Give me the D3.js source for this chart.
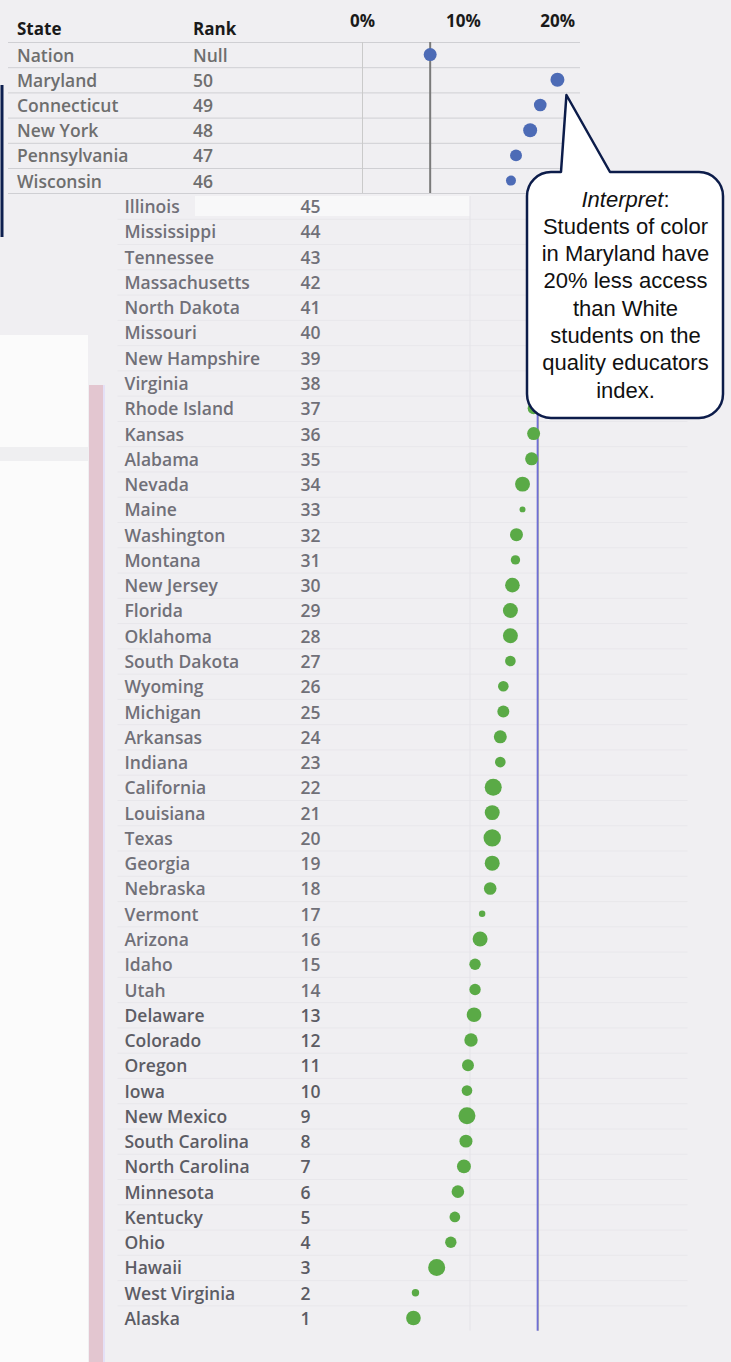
<!DOCTYPE html>
<html>
<head>
<meta charset="utf-8">
<script src="https://cdn.jsdelivr.net/npm/d3@7"></script>
<style>
  html, body { margin: 0; padding: 0; background: #f0eff2; }
  svg { display: block; }
</style>
</head>
<body>
<svg id="canvas" width="731" height="1362"></svg>
<script>
// top table: nation + the five widest gaps
var topStates = ["Nation", "Maryland", "Connecticut", "New York", "Pennsylvania", "Wisconsin"];
var topRanks = ["Null", "50", "49", "48", "47", "46"];
var topGaps = [6.7, 19.3, 17.6, 16.6, 15.2, 14.7];
var topSizes = [52, 60, 49, 60, 44, 31];

// lower table: ranks 45 down to 1
var lowStates = ["Illinois", "Mississippi", "Tennessee", "Massachusetts", "North Dakota", "Missouri",
  "New Hampshire", "Virginia", "Rhode Island", "Kansas", "Alabama", "Nevada", "Maine", "Washington",
  "Montana", "New Jersey", "Florida", "Oklahoma", "South Dakota", "Wyoming", "Michigan", "Arkansas",
  "Indiana", "California", "Louisiana", "Texas", "Georgia", "Nebraska", "Vermont", "Arizona", "Idaho",
  "Utah", "Delaware", "Colorado", "Oregon", "Iowa", "New Mexico", "South Carolina", "North Carolina",
  "Minnesota", "Kentucky", "Ohio", "Hawaii", "West Virginia", "Alaska"];
var lowRanks = [45, 44, 43, 42, 41, 40, 39, 38, 37, 36, 35, 34, 33, 32, 31, 30, 29, 28, 27, 26, 25, 24,
  23, 22, 21, 20, 19, 18, 17, 16, 15, 14, 13, 12, 11, 10, 9, 8, 7, 6, 5, 4, 3, 2, 1];
var lowGaps = [11.8, 10.5, 9.6, 8.9, 8.2, 7.6, 7.1, 6.5, 6.3, 6.3, 6.1, 5.2, 5.2, 4.6, 4.5, 4.2, 4.0,
  4.0, 4.0, 3.3, 3.3, 3.0, 3.0, 2.3, 2.2, 2.2, 2.2, 2.0, 1.2, 1.0, 0.5, 0.5, 0.4, 0.1, -0.2, -0.3,
  -0.3, -0.4, -0.6, -1.2, -1.5, -1.9, -3.3, -5.4, -5.6];
var lowSizes = [50, 50, 45, 50, 20, 45, 20, 55, 44, 52, 52, 69, 11, 52, 27, 66, 69, 69, 35, 35, 44, 52,
  35, 89, 69, 93, 69, 49, 13, 69, 40, 40, 66, 55, 44, 35, 89, 52, 60, 49, 35, 40, 89, 17, 66];

var axisTicks = [0, 10, 20];

var calloutLines = ["Students of color", "in Maryland have", "20% less access",
  "than White", "students on the", "quality educators", "index."];

var svg = d3.select('#canvas');
var font = "'Open Sans', sans-serif";

var x = d3.scaleLinear().domain([0, 10]).range([362.5, 463.5]);
var r = d3.scaleSqrt().domain([0, 100]).range([0, 9]);
var shift = 107.5;

// background bits of the pasted screenshot
svg.append('rect').attr('x', 0).attr('y', 335).attr('width', 88).attr('height', 1027).attr('fill', '#fbfbfb');
svg.append('rect').attr('x', 0).attr('y', 447).attr('width', 88).attr('height', 14).attr('fill', '#efeff1');
svg.append('rect').attr('x', 89).attr('y', 385).attr('width', 14).attr('height', 977).attr('fill', '#e3c6d0');
svg.append('rect').attr('x', 103).attr('y', 385).attr('width', 2).attr('height', 977).attr('fill', '#e4e0f6');
svg.append('line').attr('x1', 2).attr('x2', 2).attr('y1', 85).attr('y2', 237)
  .attr('stroke', '#0d1f4f').attr('stroke-width', 3);
svg.append('rect').attr('x', 195).attr('y', 196).attr('width', 275).attr('height', 20)
  .attr('fill', '#ffffff').attr('opacity', 0.55);

// ---- top table ----
var yTop = d3.scaleBand().domain(topStates).range([42, 193.2]);
var topG = svg.append('g');

topG.selectAll('line.sep')
  .data(topStates)
  .enter()
  .append('line')
  .attr('x1', 8).attr('x2', 580)
  .attr('y1', function(d) { return yTop(d) + 0.5; })
  .attr('y2', function(d) { return yTop(d) + 0.5; })
  .attr('stroke', '#cfcfd3');
topG.append('line')
  .attr('x1', 8).attr('x2', 580).attr('y1', 193.5).attr('y2', 193.5)
  .attr('stroke', '#cfcfd3');

topG.append('line')
  .attr('x1', x(0)).attr('x2', x(0)).attr('y1', 42).attr('y2', 193)
  .attr('stroke', '#cacaca');
topG.append('line')
  .attr('x1', x(topGaps[0])).attr('x2', x(topGaps[0])).attr('y1', 42).attr('y2', 193)
  .attr('stroke', '#7a7a7a').attr('stroke-width', 2);

topG.selectAll('text.tick')
  .data(axisTicks)
  .enter()
  .append('text')
  .attr('x', function(d, i) { return i == axisTicks.length - 1 ? 575 : x(d); })
  .attr('y', 27)
  .attr('text-anchor', function(d, i) { return i == axisTicks.length - 1 ? 'end' : 'middle'; })
  .style('font-family', font).style('font-weight', 700).style('font-size', '17px')
  .style('fill', '#1a1a1a')
  .text(function(d) { return d + '%'; });

topG.append('text').attr('x', 17).attr('y', 35).text('State')
  .style('font-family', font).style('font-weight', 700).style('font-size', '17px').style('fill', '#1a1a1a');
topG.append('text').attr('x', 193).attr('y', 35).text('Rank')
  .style('font-family', font).style('font-weight', 700).style('font-size', '17px').style('fill', '#1a1a1a');

topG.selectAll('text.name')
  .data(topStates)
  .enter()
  .append('text')
  .attr('x', 17)
  .attr('y', function(d) { return yTop(d) + yTop.bandwidth() / 2 + 7; })
  .style('font-family', font).style('font-weight', 600).style('font-size', '17.5px')
  .style('fill', '#6e6e6e')
  .text(function(d) { return d; });

topG.selectAll('text.rank')
  .data(topRanks)
  .enter()
  .append('text')
  .attr('x', 193)
  .attr('y', function(d, i) { return yTop(topStates[i]) + yTop.bandwidth() / 2 + 7; })
  .style('font-family', font).style('font-weight', 600).style('font-size', '17.5px')
  .style('fill', '#6e6e6e')
  .text(function(d) { return d; });

topG.selectAll('circle')
  .data(topGaps)
  .enter()
  .append('circle')
  .attr('cx', function(d) { return x(d); })
  .attr('cy', function(d, i) { return yTop(topStates[i]) + yTop.bandwidth() / 2; })
  .attr('r', function(d, i) { return r(topSizes[i]); })
  .style('fill', '#4d6bb6');

// ---- lower table (shifted copy) ----
var yLow = d3.scaleBand().domain(lowStates).range([193.5, 193.5 + 25.27 * lowStates.length]);
var lowG = svg.append('g').attr('transform', 'translate(' + shift + ',0)');

lowG.selectAll('line.sep')
  .data(lowStates.slice(1))
  .enter()
  .append('line')
  .attr('x1', 10).attr('x2', 580)
  .attr('y1', function(d) { return yLow(d) + 0.5; })
  .attr('y2', function(d) { return yLow(d) + 0.5; })
  .attr('stroke', '#e8e7eb');

lowG.append('line')
  .attr('x1', x(0)).attr('x2', x(0)).attr('y1', 196).attr('y2', yLow.range()[1])
  .attr('stroke', '#e4e3e8');
lowG.append('line')
  .attr('x1', x(topGaps[0]) + 1).attr('x2', x(topGaps[0]) + 1).attr('y1', 196).attr('y2', yLow.range()[1])
  .attr('stroke', '#eeee90').attr('stroke-width', 1);
lowG.append('line')
  .attr('x1', x(topGaps[0])).attr('x2', x(topGaps[0])).attr('y1', 196).attr('y2', yLow.range()[1])
  .attr('stroke', '#6f6fd6').attr('stroke-width', 2);

lowG.selectAll('text.name')
  .data(lowStates)
  .enter()
  .append('text')
  .attr('x', 17)
  .attr('y', function(d) { return yLow(d) + yLow.bandwidth() / 2 + 7; })
  .style('font-family', font).style('font-weight', 600).style('font-size', '17.5px')
  .style('fill', function(d, i) { return lowRanks[i] > 13 ? '#707078' : '#5c5c64'; })
  .text(function(d) { return d; });

lowG.selectAll('text.rank')
  .data(lowRanks)
  .enter()
  .append('text')
  .attr('x', 193)
  .attr('y', function(d, i) { return yLow(lowStates[i]) + yLow.bandwidth() / 2 + 7; })
  .style('font-family', font).style('font-weight', 600).style('font-size', '17.5px')
  .style('fill', function(d) { return d > 13 ? '#707078' : '#5c5c64'; })
  .text(function(d) { return d; });

lowG.selectAll('circle')
  .data(lowGaps)
  .enter()
  .append('circle')
  .attr('cx', function(d) { return x(d); })
  .attr('cy', function(d, i) { return yLow(lowStates[i]) + yLow.bandwidth() / 2; })
  .attr('r', function(d, i) { return r(lowSizes[i]); })
  .style('fill', '#5aaa46');

// ---- callout ----
var bx = 527, by = 172, bw = 196, bh = 246, br = 24;
var tipX = x(topGaps[1]) + 9, tipY = 95;
var path = d3.path();
path.moveTo(bx + br, by);
path.lineTo(561, by);
path.lineTo(tipX, tipY);
path.lineTo(610, by);
path.lineTo(bx + bw - br, by);
path.arcTo(bx + bw, by, bx + bw, by + br, br);
path.lineTo(bx + bw, by + bh - br);
path.arcTo(bx + bw, by + bh, bx + bw - br, by + bh, br);
path.lineTo(bx + br, by + bh);
path.arcTo(bx, by + bh, bx, by + bh - br, br);
path.lineTo(bx, by + br);
path.arcTo(bx, by, bx + br, by, br);
path.closePath();

svg.append('path')
  .attr('d', path.toString())
  .attr('fill', '#ffffff')
  .attr('stroke', '#0c1c4a')
  .attr('stroke-width', 2.5)
  .attr('stroke-linejoin', 'round');

var title = svg.append('text')
  .attr('x', 625.5).attr('y', 206.5)
  .attr('text-anchor', 'middle')
  .style('font-family', "'Liberation Sans', Arial, sans-serif").style('font-size', '22px')
  .style('fill', '#111');
title.append('tspan').style('font-style', 'italic').text('Interpret');
title.append('tspan').text(':');

svg.selectAll('text.callout')
  .data(calloutLines)
  .enter()
  .append('text')
  .attr('x', 625.5)
  .attr('y', function(d, i) { return 206.5 + 27.3 * (i + 1); })
  .attr('text-anchor', 'middle')
  .style('font-family', "'Liberation Sans', Arial, sans-serif").style('font-size', '22px')
  .style('fill', '#111')
  .text(function(d) { return d; });
</script>
</body>
</html>
